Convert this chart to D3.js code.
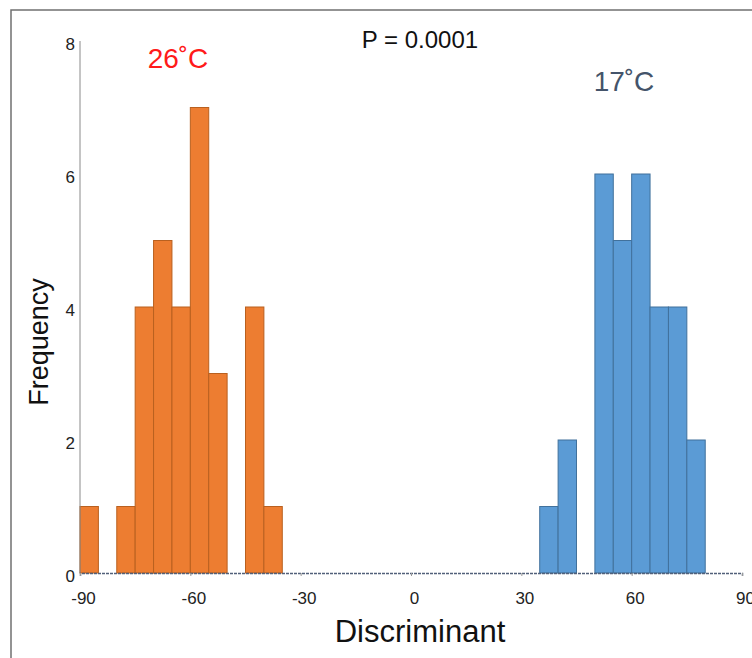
<!DOCTYPE html>
<html>
<head>
<meta charset="utf-8">
<script src="https://cdn.jsdelivr.net/npm/d3@7"></script>
<style>
  body { margin: 0; background: #fff; }
  svg { display: block; font-family: "Liberation Sans", Arial, sans-serif; }
</style>
</head>
<body>
<div id="chart"></div>
<script>
// histogram bins (left edge of each 5-unit bin) and counts
var warmBins = [-90, -85, -80, -75, -70, -65, -60, -55, -50, -45, -40];
var warmCounts = [1, 0, 1, 4, 5, 4, 7, 3, 0, 4, 1];
var coolBins = [35, 40, 45, 50, 55, 60, 65, 70, 75];
var coolCounts = [1, 2, 0, 6, 5, 6, 4, 4, 2];
var binWidth = 5;

var xTicks = [-90, -60, -30, 0, 30, 60, 90];
var yTicks = [0, 2, 4, 6, 8];

var width = 752, height = 658;

var svg = d3.select("#chart")
    .append("svg")
    .attr("width", width)
    .attr("height", height);

//Frame lines (top + left)
svg.append("path")
    .attr("d", "M11,658V10H752")
    .attr("fill", "none")
    .attr("stroke", "#707070")
    .attr("stroke-width", 1.5);

var x = d3.scaleLinear().domain([-90, 90]).range([80, 742]);
var y = d3.scaleLinear().domain([0, 8]).range([573, 41]);

//Bars
function bars(bins, counts, fill, stroke) {
    var data = bins.map(function(b, i) {
        return {x0: b, n: counts[i]};
    }).filter(function(d) { return d.n > 0; });

    svg.append("g")
        .selectAll("rect")
        .data(data)
        .enter()
        .append("rect")
        .attr("x", function(d) { return x(d.x0); })
        .attr("width", function(d) { return x(d.x0 + binWidth) - x(d.x0); })
        .attr("y", function(d) { return y(d.n); })
        .attr("height", function(d) { return y(0) - y(d.n); })
        .attr("fill", fill)
        .attr("stroke", stroke)
        .attr("stroke-width", 1);
}
bars(warmBins, warmCounts, "#ED7D31", "#B9601F");
bars(coolBins, coolCounts, "#5B9BD5", "#41719C");

//Y axis
svg.append("line")
    .attr("x1", 80).attr("x2", 80)
    .attr("y1", y(8)).attr("y2", y(0))
    .attr("stroke", "#8a8a8a")
    .attr("stroke-width", 1);

svg.append("g")
    .selectAll("text")
    .data(yTicks)
    .enter()
    .append("text")
    .attr("x", 75)
    .attr("y", function(d) { return y(d) + 9; })
    .attr("text-anchor", "end")
    .attr("font-size", 17)
    .attr("fill", "#222")
    .text(function(d) { return d; });

//X axis baseline
var xAxis = d3.axisBottom(x)
    .tickValues(xTicks)
    .tickSize(3)
    .tickPadding(16)
    .tickFormat(function(d) { return String(d); });

var gx = svg.append("g")
    .attr("transform", "translate(0," + y(0) + ")")
    .call(xAxis);

gx.select(".domain")
    .attr("stroke", "#51607a")
    .attr("stroke-width", 1.5)
    .attr("stroke-dasharray", "3,1");
gx.selectAll(".tick line").attr("stroke", "#999");
gx.selectAll(".tick text")
    .attr("dx", 3)
    .style("font-size", "17px")
    .style("font-family", "Liberation Sans, Arial, sans-serif")
    .attr("fill", "#222");

//Axis titles
svg.append("text")
    .attr("x", 420)
    .attr("y", 642)
    .attr("text-anchor", "middle")
    .attr("font-size", 31)
    .attr("fill", "#111")
    .text("Discriminant");

svg.append("text")
    .attr("transform", "translate(48,342) rotate(-90)")
    .attr("text-anchor", "middle")
    .attr("font-size", 27)
    .attr("fill", "#111")
    .text("Frequency");

//Annotations
svg.append("text")
    .attr("x", 420)
    .attr("y", 48)
    .attr("text-anchor", "middle")
    .attr("font-size", 24)
    .attr("fill", "#111")
    .text("P = 0.0001");

svg.append("text")
    .attr("x", 178)
    .attr("y", 68)
    .attr("text-anchor", "middle")
    .attr("font-size", 28)
    .attr("fill", "#ff1a1a")
    .text("26˚C");

svg.append("text")
    .attr("x", 624)
    .attr("y", 91)
    .attr("text-anchor", "middle")
    .attr("font-size", 28)
    .attr("fill", "#44546A")
    .text("17˚C");
</script>
</body>
</html>
